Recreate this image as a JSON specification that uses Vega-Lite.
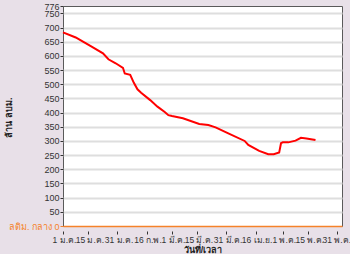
{
  "$schema": "https://vega.github.io/schema/vega-lite/v6.json",
  "width": 279,
  "height": 220,
  "autosize": "none",
  "padding": {"left": 63, "top": 6, "right": 8, "bottom": 28},
  "background": "#e8e0e8",
  "config": {
    "view": {"fill": "white", "stroke": "#5a5a5a", "strokeWidth": 1},
    "axis": {"labelFont": "Liberation Sans", "titleFont": "Liberation Sans", "labelColor": "#333333", "titleColor": "#222222"}
  },
  "data": {
    "values": [
      {"date": "2012-01-01", "value": 683},
      {"date": "2012-01-08", "value": 665},
      {"date": "2012-01-12", "value": 650},
      {"date": "2012-01-17", "value": 632},
      {"date": "2012-01-23", "value": 609},
      {"date": "2012-01-26", "value": 588},
      {"date": "2012-01-30", "value": 574},
      {"date": "2012-02-03", "value": 558},
      {"date": "2012-02-04", "value": 538},
      {"date": "2012-02-07", "value": 533},
      {"date": "2012-02-09", "value": 505},
      {"date": "2012-02-11", "value": 482},
      {"date": "2012-02-13", "value": 470},
      {"date": "2012-02-18", "value": 444},
      {"date": "2012-02-22", "value": 421},
      {"date": "2012-02-26", "value": 402},
      {"date": "2012-02-28", "value": 391},
      {"date": "2012-03-01", "value": 388},
      {"date": "2012-03-07", "value": 380},
      {"date": "2012-03-16", "value": 360},
      {"date": "2012-03-21", "value": 356},
      {"date": "2012-03-25", "value": 348},
      {"date": "2012-04-01", "value": 327},
      {"date": "2012-04-10", "value": 300},
      {"date": "2012-04-12", "value": 286},
      {"date": "2012-04-18", "value": 265},
      {"date": "2012-04-23", "value": 253},
      {"date": "2012-04-26", "value": 253},
      {"date": "2012-04-29", "value": 259},
      {"date": "2012-04-30", "value": 292},
      {"date": "2012-05-01", "value": 295},
      {"date": "2012-05-04", "value": 295},
      {"date": "2012-05-08", "value": 301},
      {"date": "2012-05-11", "value": 311},
      {"date": "2012-05-14", "value": 309},
      {"date": "2012-05-19", "value": 303}
    ]
  },
  "mark": {"type": "line", "color": "#ff0000", "strokeWidth": 2},
  "encoding": {
    "x": {
      "field": "date",
      "type": "temporal",
      "scale": {"type": "utc", "domain": [{"year": 2012, "month": 1, "date": 1, "utc": true}, {"year": 2012, "month": 6, "date": 2, "hours": 14, "utc": true}]},
      "axis": {
        "title": "วันที่/เวลา",
        "titleFontSize": 9,
        "titleFontWeight": "bold",
        "titlePadding": 2,
        "offset": 5,
        "domain": false,
        "grid": false,
        "tickSize": 3,
        "tickColor": "#333333",
        "labelPadding": 1,
        "labelFontSize": 8.5,
        "labelOverlap": false,
        "labelFlush": false,
        "labelBound": false,
        "labelOffset": {"condition": {"test": "utcmonth(datum.value) == 4 && utcdate(datum.value) == 31", "value": -1}, "value": 1},
        "values": [
          {"year": 2012, "month": 1, "date": 1, "utc": true},
          {"year": 2012, "month": 1, "date": 15, "utc": true},
          {"year": 2012, "month": 1, "date": 31, "utc": true},
          {"year": 2012, "month": 2, "date": 16, "utc": true},
          {"year": 2012, "month": 3, "date": 1, "utc": true},
          {"year": 2012, "month": 3, "date": 15, "utc": true},
          {"year": 2012, "month": 3, "date": 31, "utc": true},
          {"year": 2012, "month": 4, "date": 16, "utc": true},
          {"year": 2012, "month": 5, "date": 1, "utc": true},
          {"year": 2012, "month": 5, "date": 15, "utc": true},
          {"year": 2012, "month": 5, "date": 31, "utc": true}
        ],
        "labelExpr": "utcdate(datum.value) + ' ' + ['ม.ค.','ก.พ.','มี.ค.','เม.ย.','พ.ค.','มิ.ย.'][utcmonth(datum.value)]"
      }
    },
    "y": {
      "field": "value",
      "type": "quantitative",
      "scale": {"domain": [0, 776], "nice": false, "zero": true},
      "axis": {
        "title": "ล้าน ลบม.",
        "titleFontSize": 9,
        "titleFontWeight": "bold",
        "titleX": -55,
        "titleY": 111,
        "titleBaseline": "middle",
        "titleAlign": "center",
        "titleAngle": 270,
        "domain": false,
        "tickSize": 3,
        "tickColor": "#333333",
        "labelPadding": 1,
        "labelFontSize": 9,
        "labelOverlap": false,
        "labelFlush": false,
        "labelBound": false,
        "values": [0, 50, 100, 150, 200, 250, 300, 350, 400, 450, 500, 550, 600, 650, 700, 750, 776],
        "labelExpr": "datum.value == 0 ? 'ลติม. กลาง 0' : datum.label",
        "labelColor": {"condition": {"test": "datum.value == 0", "value": "#f5822a"}, "value": "#333333"},
        "tickColor": {"condition": {"test": "datum.value == 0", "value": "#f5822a"}, "value": "#333333"},
        "gridColor": {"condition": [{"test": "datum.value == 776", "value": "rgba(0,0,0,0)"}, {"test": "datum.value == 0", "value": "#f5822a"}], "value": "#dedede"},
        "gridWidth": {"condition": {"test": "datum.value == 0", "value": 1.5}, "value": 2}
      }
    }
  }
}
